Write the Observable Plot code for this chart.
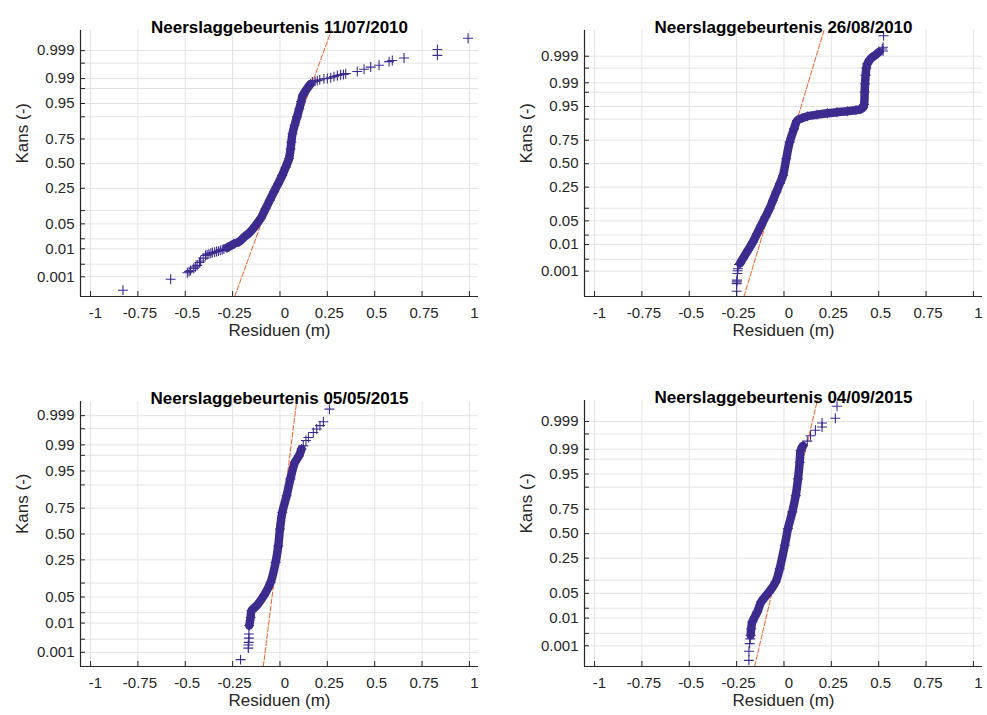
<!DOCTYPE html>
<html>
<head>
<meta charset="utf-8">
<script src="https://cdn.jsdelivr.net/npm/d3@7"></script>
<script src="https://cdn.jsdelivr.net/npm/@observablehq/plot@0.6"></script>
<style>
  html, body { margin: 0; padding: 0; background: #fff; }
  #wrap { position: relative; width: 987px; height: 715px; background: #fff; overflow: hidden; }
  .panel { position: absolute; }
</style>
</head>
<body>
<div id="wrap"></div>
<script>
// ---------- tick definitions ----------
const xTicks = [-1, -0.75, -0.5, -0.25, 0, 0.25, 0.5, 0.75, 1];
const xTickLabels = ["-1", "-0.75", "-0.5", "-0.25", "0", "0.25", "0.5", "0.75", "1"];
const yGridProbs = [0.001, 0.003, 0.01, 0.02, 0.05, 0.10, 0.25, 0.50, 0.75, 0.90, 0.95, 0.98, 0.99, 0.997, 0.999];
const yLabelProbs = [0.001, 0.01, 0.05, 0.25, 0.50, 0.75, 0.95, 0.99, 0.999];
const yTickLabels = ["0.001", "0.01", "0.05", "0.25", "0.50", "0.75", "0.95", "0.99", "0.999"];
const titles = ["Neerslaggebeurtenis 11/07/2010", "Neerslaggebeurtenis 26/08/2010",
                "Neerslaggebeurtenis 05/05/2015", "Neerslaggebeurtenis 04/09/2015"];
const xLabel = "Residuen (m)";
const yLabel = "Kans (-)";

// ---------- data (residual in m, normal-quantile position of plotting probability) ----------
// Panel 1: 11/07/2010
const p1TailLoRes = [-0.829, -0.577, -0.489, -0.480, -0.472, -0.455, -0.445, -0.437, -0.425, -0.419, -0.405, -0.393, -0.385, -0.375, -0.365, -0.357, -0.345, -0.335, -0.325, -0.315, -0.305, -0.296];
const p1TailLoZ   = [-3.46, -3.16, -2.98, -2.95, -2.92, -2.86, -2.82, -2.78, -2.70, -2.66, -2.58, -2.51, -2.49, -2.47, -2.45, -2.43, -2.42, -2.40, -2.39, -2.37, -2.35, -2.33];
const p1BandRes = [-0.28, -0.243, -0.217, -0.19, -0.160, -0.129, -0.100, -0.076, -0.054, -0.032, -0.010, 0.012, 0.030, 0.048, 0.056, 0.060, 0.066, 0.077, 0.090, 0.102, 0.112, 0.121, 0.143, 0.162];
const p1BandZ   = [-2.30, -2.19, -2.14, -2.01, -1.88, -1.69, -1.48, -1.23, -1.00, -0.77, -0.55, -0.32, -0.10, 0.14, 0.40, 0.59, 0.82, 1.05, 1.28, 1.50, 1.70, 1.87, 2.05, 2.18];
const p1TailHiRes = [0.171, 0.185, 0.197, 0.21, 0.232, 0.25, 0.268, 0.285, 0.303, 0.32, 0.335, 0.347, 0.408, 0.444, 0.479, 0.523, 0.576, 0.593, 0.655, 0.831, 0.831, 0.993];
const p1TailHiZ   = [2.23, 2.25, 2.27, 2.29, 2.32, 2.33, 2.35, 2.38, 2.41, 2.43, 2.44, 2.46, 2.52, 2.58, 2.64, 2.69, 2.79, 2.82, 2.89, 2.96, 3.12, 3.43];
const p1RefRes = [-0.239, 0.271];
const p1ZRange = [-3.63, 3.64];

// Panel 2: 26/08/2010
const p2TailLoRes = [-0.250, -0.250, -0.249, -0.248, -0.246, -0.245, -0.243, -0.238];
const p2TailLoZ   = [-3.67, -3.45, -3.40, -3.35, -3.16, -3.08, -3.02, -2.90];
const p2BandRes = [-0.232, -0.217, -0.19, -0.164, -0.142, -0.120, -0.098, -0.076, -0.058, -0.040, -0.022, -0.005, 0.012, 0.030, 0.053, 0.070, 0.095, 0.123, 0.175, 0.229, 0.28, 0.335, 0.380, 0.405, 0.418, 0.423, 0.426, 0.428, 0.431, 0.435, 0.440, 0.458, 0.484, 0.502];
const p2BandZ   = [-2.87, -2.73, -2.49, -2.25, -2.01, -1.77, -1.53, -1.29, -1.05, -0.81, -0.57, -0.34, 0.14, 0.62, 1.00, 1.24, 1.31, 1.36, 1.41, 1.45, 1.48, 1.51, 1.54, 1.57, 1.62, 1.70, 2.06, 2.30, 2.54, 2.75, 2.87, 3.02, 3.13, 3.21];
const p2TailHiRes = [0.519, 0.523, 0.523, 0.526];
const p2TailHiZ   = [3.30, 3.24, 3.35, 3.68];
const p2RefRes = [-0.211, 0.211];
const p2ZRange = [-3.82, 3.83];

// Panel 3: 05/05/2015
const p3TailLoRes = [-0.208, -0.167, -0.167, -0.165, -0.164, -0.164];
const p3TailLoZ   = [-3.28, -2.98, -2.90, -2.83, -2.72, -2.61];
const p3BandRes = [-0.162, -0.155, -0.150, -0.123, -0.085, -0.049, -0.023, -0.009, 0.0, 0.012, 0.035, 0.055, 0.079, 0.100, 0.114];
const p3BandZ   = [-2.39, -2.18, -2.00, -1.87, -1.61, -1.26, -0.74, -0.31, 0.13, 0.56, 1.00, 1.44, 1.87, 2.04, 2.22];
const p3TailHiRes = [0.123, 0.137, 0.150, 0.176, 0.194, 0.211, 0.229, 0.261];
const p3TailHiZ   = [2.30, 2.44, 2.52, 2.65, 2.74, 2.83, 2.93, 3.26];
const p3RefRes = [-0.088, 0.088];
const p3ZRange = [-3.46, 3.46];

// Panel 4: 04/09/2015
const p4TailLoRes = [-0.185, -0.185, -0.181, -0.178];
const p4TailLoZ   = [-3.49, -3.24, -3.03, -2.90];
const p4BandRes = [-0.176, -0.173, -0.167, -0.141, -0.120, -0.079, -0.044, -0.023, 0.004, 0.021, 0.044, 0.062, 0.074, 0.083, 0.088, 0.100];
const p4BandZ   = [-2.80, -2.62, -2.43, -2.16, -1.88, -1.61, -1.33, -0.97, -0.32, 0.14, 0.60, 1.05, 1.51, 1.97, 2.29, 2.42];
const p4TailHiRes = [0.123, 0.140, 0.166, 0.201, 0.201, 0.271, 0.280];
const p4TailHiZ   = [2.55, 2.70, 2.85, 2.94, 3.05, 3.18, 3.51];
const p4RefRes = [-0.155, 0.176];
const p4ZRange = [-3.66, 3.67];

// ---------- probit (inverse standard normal CDF, Acklam) for the probability axis ----------
function probit(p) {
  const a = [-3.969683028665376e+01, 2.209460984245205e+02, -2.759285104469687e+02, 1.383577518672690e+02, -3.066479806614716e+01, 2.506628277459239e+00];
  const b = [-5.447609879822406e+01, 1.615858368580409e+02, -1.556989798598866e+02, 6.680131188771972e+01, -1.328068155288572e+01];
  const c = [-7.784894002430293e-03, -3.223964580411365e-01, -2.400758277161838e+00, -2.549732539343734e+00, 4.374664141464968e+00, 2.938163982698783e+00];
  const d = [7.784695709041462e-03, 3.224671290700398e-01, 2.445134137142996e+00, 3.754408661907416e+00];
  const pl = 0.02425;
  let q, r;
  if (p < pl) {
    q = Math.sqrt(-2 * Math.log(p));
    return (((((c[0]*q+c[1])*q+c[2])*q+c[3])*q+c[4])*q+c[5]) / ((((d[0]*q+d[1])*q+d[2])*q+d[3])*q+1);
  } else if (p <= 1 - pl) {
    q = p - 0.5; r = q * q;
    return (((((a[0]*r+a[1])*r+a[2])*r+a[3])*r+a[4])*r+a[5])*q / (((((b[0]*r+b[1])*r+b[2])*r+b[3])*r+b[4])*r+1);
  } else {
    q = Math.sqrt(-2 * Math.log(1 - p));
    return -(((((c[0]*q+c[1])*q+c[2])*q+c[3])*q+c[4])*q+c[5]) / ((((d[0]*q+d[1])*q+d[2])*q+d[3])*q+1);
  }
}

const yGridZ = yGridProbs.map(probit);
const yLabelZ = yLabelProbs.map(probit);

const MARK = "#3d2b8e";
const REF = "#f0602a";
const GRID = "#e3e3e3";
const AXIS = "#262626";
const FONT = "'Liberation Sans', Arial, Helvetica, sans-serif";
const X_DOMAIN = [-1.053, 1.048];

const panels = [
  {title: titles[0], tlr: p1TailLoRes, tlz: p1TailLoZ, br: p1BandRes, bz: p1BandZ, thr: p1TailHiRes, thz: p1TailHiZ, ref: p1RefRes, zr: p1ZRange,
   left: 0, top: 0, width: 490, height: 350, ml: 80, mr: 12, mt: 30, mb: 54},
  {title: titles[1], tlr: p2TailLoRes, tlz: p2TailLoZ, br: p2BandRes, bz: p2BandZ, thr: p2TailHiRes, thz: p2TailHiZ, ref: p2RefRes, zr: p2ZRange,
   left: 490, top: 0, width: 497, height: 350, ml: 94, mr: 5, mt: 30, mb: 54},
  {title: titles[2], tlr: p3TailLoRes, tlz: p3TailLoZ, br: p3BandRes, bz: p3BandZ, thr: p3TailHiRes, thz: p3TailHiZ, ref: p3RefRes, zr: p3ZRange,
   left: 0, top: 360, width: 490, height: 355, ml: 80, mr: 12, mt: 41, mb: 49},
  {title: titles[3], tlr: p4TailLoRes, tlz: p4TailLoZ, br: p4BandRes, bz: p4BandZ, thr: p4TailHiRes, thz: p4TailHiZ, ref: p4RefRes, zr: p4ZRange,
   left: 490, top: 360, width: 497, height: 355, ml: 94, mr: 5, mt: 40, mb: 49}
];

const xLabelOf = v => xTickLabels[xTicks.indexOf(v)];
const yLabelOf = z => yTickLabels[yLabelZ.indexOf(z)];
const intTicks = xTicks.filter(v => Number.isInteger(v));
const fracTicks = xTicks.filter(v => !Number.isInteger(v));

const wrap = document.getElementById("wrap");
for (const P of panels) {
  const band = P.br.map((r, i) => ({r, z: P.bz[i]}));
  const tails = P.tlr.map((r, i) => ({r, z: P.tlz[i]})).concat(P.thr.map((r, i) => ({r, z: P.thz[i]})));
  const refLine = [{r: P.ref[0], z: P.zr[0]}, {r: P.ref[1], z: P.zr[1]}];
  const innerW = P.width - P.ml - P.mr;
  const innerH = P.height - P.mt - P.mb;

  const chart = Plot.plot({
    width: P.width, height: P.height,
    marginLeft: P.ml, marginRight: P.mr, marginTop: P.mt, marginBottom: P.mb,
    style: {fontFamily: FONT, fontSize: "15px", color: AXIS, background: "white", overflow: "visible"},
    x: {domain: X_DOMAIN, axis: null},
    y: {domain: P.zr, axis: null},
    marks: [
      Plot.gridX(xTicks, {stroke: GRID, strokeOpacity: 1}),
      Plot.gridY(yGridZ, {stroke: GRID, strokeOpacity: 1}),
      Plot.line(refLine, {x: "r", y: "z", stroke: REF, strokeWidth: 1, strokeDasharray: "5,2"}),
      Plot.line(band, {x: "r", y: "z", stroke: MARK, strokeWidth: 8.5, strokeLinecap: "round", strokeLinejoin: "round", curve: "catmull-rom"}),
      Plot.dot(band.concat(tails), {x: "r", y: "z", symbol: "plus", r: 3.3, stroke: MARK, strokeWidth: 1.1}),
      Plot.tickX(xTicks, {x: d => d, insetTop: innerH - 5, stroke: AXIS}),
      Plot.tickY(yGridZ, {y: d => d, insetRight: innerW - 5, stroke: AXIS}),
      Plot.ruleX([X_DOMAIN[0]], {stroke: AXIS, strokeWidth: 1.2}),
      Plot.ruleY([P.zr[0]], {stroke: AXIS, strokeWidth: 1.2}),
      Plot.axisX(intTicks, {tickSize: 0, tickPadding: 11, tickFormat: xLabelOf, dx: 5, label: null, fontSize: 15}),
      Plot.axisX(fracTicks, {tickSize: 0, tickPadding: 11, tickFormat: xLabelOf, dx: 2, label: null, fontSize: 15}),
      Plot.axisY(yLabelZ, {tickSize: 0, tickPadding: 6, tickFormat: yLabelOf, label: null, fontSize: 15}),
      Plot.text([xLabel], {text: d => d, frameAnchor: "bottom", dy: 39, fontSize: 17, fill: AXIS}),
      Plot.text([yLabel], {text: d => d, frameAnchor: "left", dx: -58, rotate: -90, fontSize: 17, fill: AXIS}),
      Plot.text([P.title], {text: d => d, frameAnchor: "top", dy: -10, fontSize: 17, fontWeight: "bold", fill: "#000"})
    ]
  });
  const div = document.createElement("div");
  div.className = "panel";
  div.style.left = P.left + "px";
  div.style.top = P.top + "px";
  div.appendChild(chart);
  wrap.appendChild(div);
}
</script>
</body>
</html>
